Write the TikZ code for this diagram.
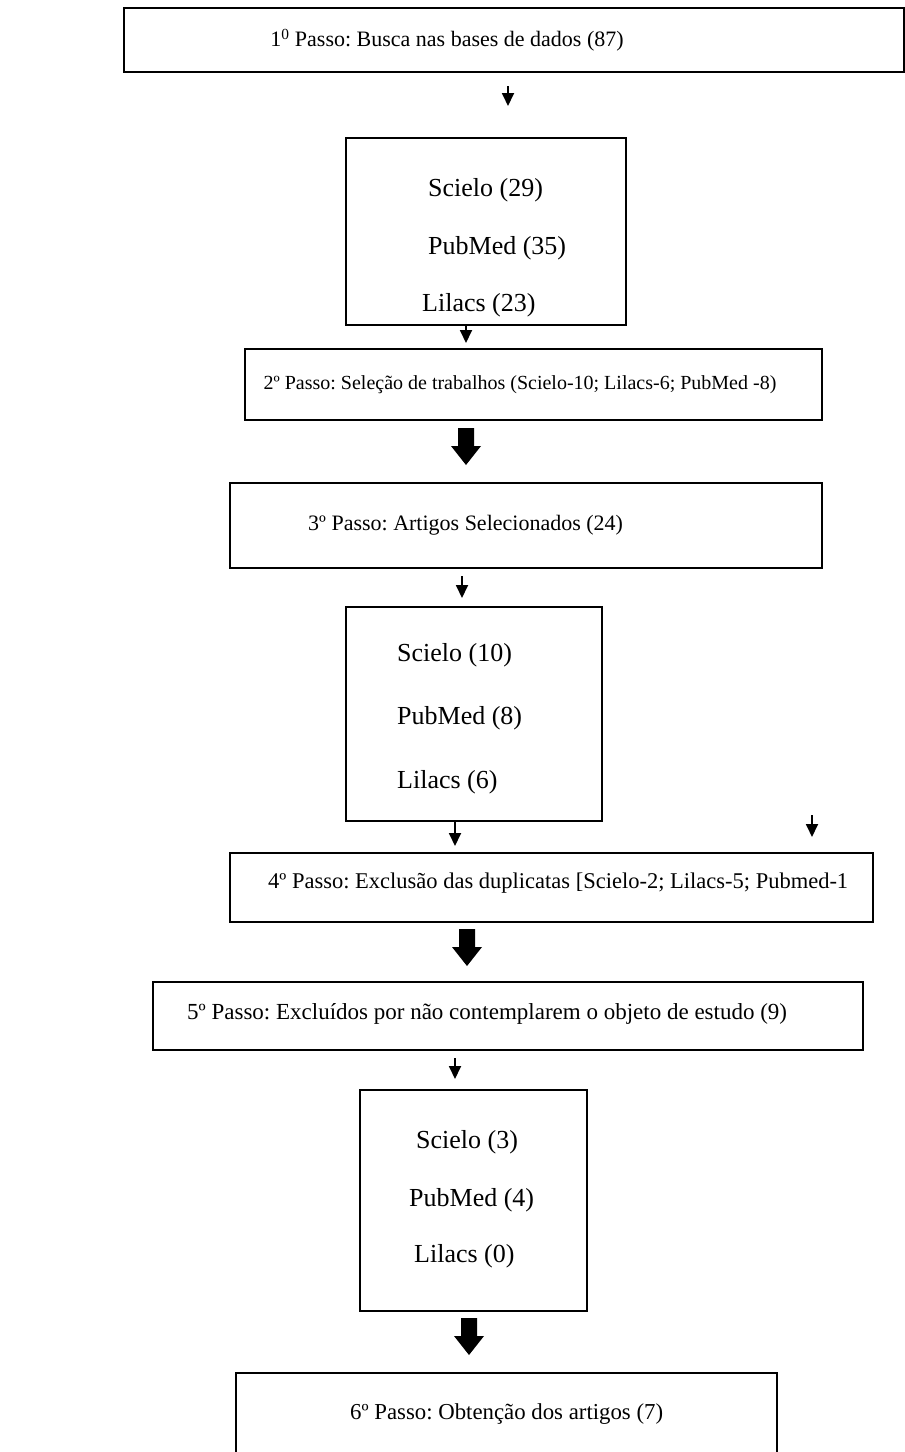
\documentclass[tikz,border=0pt]{standalone}
\usepackage{fontspec}
\setmainfont{Liberation Serif}
\usetikzlibrary{arrows.meta,calc}
\frenchspacing
\begin{document}
\begin{tikzpicture}[x=1pt,y=-1pt,
  box/.style={draw=black, line width=1.8pt, inner sep=0pt},
  steptxt/.style={font=\fontsize{22.5}{27}\selectfont, inner sep=0pt},
  dbtxt/.style={font=\fontsize{26}{31}\selectfont, inner sep=0pt, anchor=west},
  tarrow/.style={line width=1.8pt, -{Triangle[width=12pt,length=13pt]}},
  blockarrow/.style={fill=black, draw=none}
]
\useasboundingbox (0,0) rectangle (905,1452);
\clip (0,0) rectangle (905,1452);

% boxes
\node[box, minimum width=780pt, minimum height=64pt] (b1) at (514,40) {};
\node[box, minimum width=280pt, minimum height=187pt] (b1db) at (486,231.5) {};
\node[box, minimum width=577pt, minimum height=71pt] (b2) at (533.5,384.5) {};
\node[box, minimum width=592pt, minimum height=85pt] (b3) at (526,525.5) {};
\node[box, minimum width=256pt, minimum height=214pt] (b3db) at (474,714) {};
\node[box, minimum width=643pt, minimum height=69pt] (b4) at (551.5,887.5) {};
\node[box, minimum width=710pt, minimum height=68pt] (b5) at (508,1016) {};
\node[box, minimum width=227pt, minimum height=221pt] (b5db) at (473.5,1200.5) {};
\node[box, minimum width=541pt, minimum height=97pt] (b6) at (506.5,1421.5) {};

% step texts
\node[steptxt, font=\fontsize{22}{27}\selectfont] (t1) at (447,40) {1\textsuperscript{0} Passo: Busca nas bases de dados (87)};
\node[steptxt, font=\fontsize{20}{24}\selectfont] (t2) at (520,385) {2º Passo: Seleção de trabalhos (Scielo-10; Lilacs-6; PubMed -8)};
\node[steptxt, font=\fontsize{22}{27}\selectfont, anchor=west] (t3) at (308,525) {3º Passo: Artigos Selecionados (24)};
\node[steptxt, anchor=west] (t4) at (268,883) {4º Passo: Exclusão das duplicatas [Scielo-2; Lilacs-5; Pubmed-1};
\node[steptxt, font=\fontsize{23}{27}\selectfont, anchor=west] (t5) at (187,1014) {5º Passo: Excluídos por não contemplarem o objeto de estudo (9)};
\node[steptxt, font=\fontsize{22.8}{27}\selectfont, anchor=west] (t6) at (350,1414) {6º Passo: Obtenção dos artigos (7)};

% database texts
\node[dbtxt] (s1) at (428,190) {Scielo (29)};
\node[dbtxt] (p1) at (428,248) {PubMed (35)};
\node[dbtxt] (l1) at (422,305) {Lilacs (23)};
\node[dbtxt] (s2) at (397,655) {Scielo (10)};
\node[dbtxt] (p2) at (397,718) {PubMed (8)};
\node[dbtxt] (l2) at (397,782) {Lilacs (6)};
\node[dbtxt] (s3) at (416,1142) {Scielo (3)};
\node[dbtxt] (p3) at (409,1200) {PubMed (4)};
\node[dbtxt] (l3) at (414,1256) {Lilacs (0)};

% thin arrow end points
\coordinate (a1s) at (508,86);   \coordinate (a1e) at (508,106);
\coordinate (a2s) at (b1db.south -| 466,0); \coordinate (a2e) at (466,343);
\coordinate (a3s) at (462,576);  \coordinate (a3e) at (462,598);
\coordinate (a4s) at (b3db.south -| 455,0); \coordinate (a4e) at (455,846);
\coordinate (a5s) at (455,1058); \coordinate (a5e) at (455,1079);
\coordinate (axs) at (812,815);  \coordinate (axe) at (812,837);

\draw[tarrow] (a1s) -- (a1e);
\draw[tarrow] (a2s) -- (a2e);
\draw[tarrow] (a3s) -- (a3e);
\draw[tarrow] (a4s) -- (a4e);
\draw[tarrow] (a5s) -- (a5e);
\draw[tarrow] (axs) -- (axe);

% block arrows
\coordinate (ba1) at (466,428);
\coordinate (ba2) at (467,929);
\coordinate (ba3) at (469,1318);
\foreach \c in {ba1,ba2,ba3}{
  \fill[blockarrow] (\c) ++(-8,0) -- ++(16,0) -- ++(0,18) -- ++(7,0) -- ++(-15,19) -- ++(-15,-19) -- ++(7,0) -- cycle;
}
\end{tikzpicture}
\end{document}
